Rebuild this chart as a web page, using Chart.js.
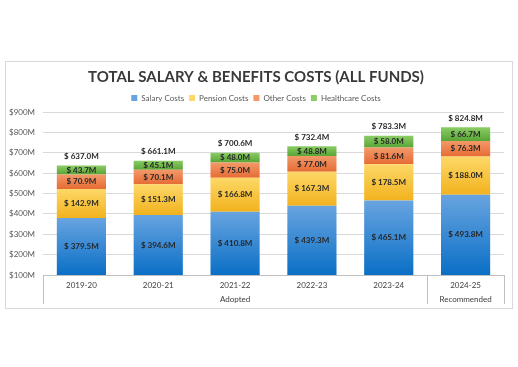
<!DOCTYPE html>
<html><head><meta charset="utf-8">
<script src="https://cdn.jsdelivr.net/npm/chart.js@4"></script>
<style>html,body{margin:0;padding:0;background:#fff}#wrap{width:518px;height:367px;position:relative}</style>
</head><body><div id="wrap"><canvas id="c"></canvas></div>
<script>
const categories = ['2019-20','2020-21','2021-22','2022-23','2023-24','2024-25'];
const groupLabels = ['Adopted','Recommended'];
const groupSizes = [5, 1];
const seriesNames = ['Salary Costs','Pension Costs','Other Costs','Healthcare Costs'];
const salaryCosts = [379.5, 394.6, 410.8, 439.3, 465.1, 493.8];
const pensionCosts = [142.9, 151.3, 166.8, 167.3, 178.5, 188.0];
const otherCosts = [70.9, 70.1, 75.0, 77.0, 81.6, 76.3];
const healthcareCosts = [43.7, 45.1, 48.0, 48.8, 58.0, 66.7];
const totalLabels = [637.0, 661.1, 700.6, 732.4, 783.3, 824.8];
const yMin = 100, yMax = 900, yStep = 100;

const seriesList = [salaryCosts, pensionCosts, otherCosts, healthcareCosts];
const solid = ['#2f86d4', '#f7c22e', '#eb7b45', '#6db449'];
const gradStops = [['#68a4e0','#0a6fc6'], ['#fdd868','#f2b21e'], ['#f3996a','#e66c34'], ['#8ccc66','#58a535']];
const FONT = 'Lato, "Open Sans", sans-serif';

function grad(ctx){
  const chart = ctx.chart, ca = chart.chartArea, ds = ctx.datasetIndex;
  if (!ca || ctx.type !== 'data' || !chart.scales.y) return solid[ds];
  const y = chart.scales.y, i = ctx.dataIndex;
  let start = 0;
  for (let k = 0; k < ds; k++) start += seriesList[k][i];
  const end = start + seriesList[ds][i];
  const top = y.getPixelForValue(end);
  const bot = Math.min(y.getPixelForValue(start), ca.bottom);
  if (!isFinite(top) || !isFinite(bot) || bot <= top) return solid[ds];
  const g = chart.ctx.createLinearGradient(0, top, 0, bot);
  g.addColorStop(0, gradStops[ds][0]);
  g.addColorStop(1, gradStops[ds][1]);
  return g;
}

const frame = {
  id: 'frame',
  beforeDraw(chart){
    const c = chart.ctx;
    c.save();
    c.fillStyle = '#ffffff';
    c.fillRect(0, 0, chart.width, chart.height);
    c.strokeStyle = '#d9d9d9';
    c.lineWidth = 1;
    c.strokeRect(5.5, 61.5, 507, 247);
    c.restore();
  }
};

const groups = {
  id: 'groups',
  afterDraw(chart){
    const c = chart.ctx, ca = chart.chartArea, x = chart.scales.x;
    const half = (x.getPixelForValue(1) - x.getPixelForValue(0)) / 2;
    c.save();
    c.strokeStyle = '#bfbfbf';
    c.lineWidth = 1;
    c.fillStyle = '#404040';
    c.font = '8px ' + FONT;
    c.textAlign = 'center';
    c.textBaseline = 'middle';
    let idx = 0;
    const bounds = [Math.round(ca.left) + 0.5];
    groupSizes.forEach((n, g) => {
      const l = x.getPixelForValue(idx) - half;
      const r = x.getPixelForValue(idx + n - 1) + half;
      c.fillText(groupLabels[g], (l + r) / 2, ca.bottom + 24);
      bounds.push(Math.round(r) + 0.5);
      idx += n;
    });
    bounds.forEach(bx => {
      c.beginPath(); c.moveTo(bx, ca.bottom); c.lineTo(bx, ca.bottom + 29); c.stroke();
    });
    c.restore();
  }
};

const labels = {
  id: 'labels',
  afterDatasetsDraw(chart){
    const c = chart.ctx, ca = chart.chartArea;
    c.save();
    c.font = 'bold 8px ' + FONT;
    c.fillStyle = '#262626';
    c.textAlign = 'center';
    c.textBaseline = 'middle';
    seriesList.forEach((arr, ds) => {
      const meta = chart.getDatasetMeta(ds);
      meta.data.forEach((el, i) => {
        const bot = Math.min(el.base, ca.bottom);
        c.fillText('$ ' + arr[i].toFixed(1) + 'M', el.x, (el.y + bot) / 2);
      });
    });
    const last = chart.getDatasetMeta(seriesList.length - 1);
    last.data.forEach((el, i) => {
      c.fillText('$ ' + totalLabels[i].toFixed(1) + 'M', el.x, el.y - 9);
    });
    c.restore();
  }
};

new Chart(document.getElementById('c'), {
  type: 'bar',
  data: {
    labels: categories,
    datasets: seriesList.map((arr, k) => ({
      label: seriesNames[k],
      data: arr,
      backgroundColor: grad,
      borderWidth: 0,
      categoryPercentage: 0.64,
      barPercentage: 1
    }))
  },
  options: {
    responsive: true,
    maintainAspectRatio: false,
    animation: false,
    layout: { padding: { left: 8, right: 14, top: 62, bottom: 59 } },
    plugins: {
      title: {
        display: true,
        text: 'TOTAL SALARY & BENEFITS COSTS (ALL FUNDS)',
        color: '#3a3a3a',
        font: { family: FONT, size: 15, weight: 'bold' },
        padding: { top: 6, bottom: 3 }
      },
      legend: {
        display: true,
        labels: {
          color: '#595959',
          font: { family: FONT, size: 8 },
          boxWidth: 6, boxHeight: 6,
          padding: 5
        }
      },
      tooltip: { enabled: false }
    },
    scales: {
      x: {
        stacked: true,
        grid: { display: false, drawTicks: false },
        border: { display: true, color: '#bfbfbf' },
        ticks: { color: '#404040', font: { family: FONT, size: 8 }, padding: 6, maxRotation: 0 },
        afterFit(s){ s.height = 33; }
      },
      y: {
        stacked: true,
        min: yMin, max: yMax,
        grid: { color: '#d9d9d9', drawTicks: false },
        border: { display: false },
        ticks: { stepSize: yStep, color: '#595959', font: { family: FONT, size: 8 }, padding: 8,
          callback: v => '$' + v + 'M' },
        afterFit(s){ s.width = 35; }
      }
    }
  },
  plugins: [frame, groups, labels]
});
</script>
</body></html>
